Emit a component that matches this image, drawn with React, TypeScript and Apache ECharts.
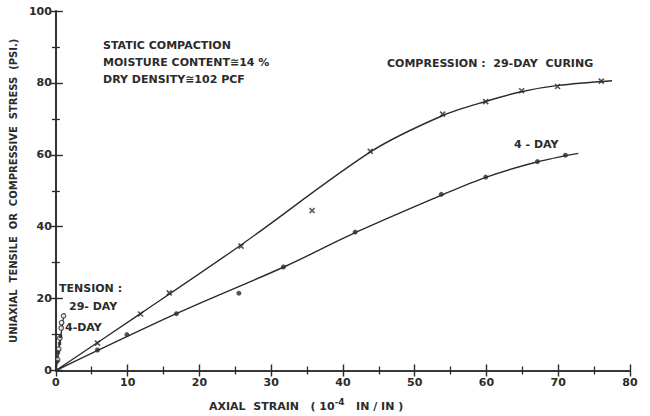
import React, { useEffect, useRef } from "react";
import * as echarts from "echarts";

// Compression, 29-day curing (x markers)
const comp29Points: number[][] = [
  [5.8, 7.6], [11.8, 15.7], [15.8, 21.6], [25.8, 34.6], [35.7, 44.5],
  [43.8, 61.0], [53.9, 71.3], [59.9, 74.8], [64.9, 77.8], [69.9, 79.0], [76.0, 80.5],
];
// Fitted curve, compression 29-day
const comp29Curve: number[][] = [
  [0, 0], [12, 16.1], [26, 35.2], [44, 61],
  [54, 71], [60, 74.9], [65, 77.6], [70, 79.3], [77.5, 80.6],
];
// Compression, 4-day curing (dots)
const comp4Points: number[][] = [
  [5.8, 5.7], [9.9, 10.0], [16.8, 15.8], [25.5, 21.5], [31.7, 28.8],
  [41.7, 38.5], [53.7, 49.0], [59.9, 53.8], [67.1, 58.1], [71.0, 59.9],
];
const comp4Curve: number[][] = [
  [0, 0], [17, 16], [32, 29], [42, 38.6], [54, 49],
  [60, 53.8], [67, 58], [72.8, 60.4],
];
// Tension, 29-day (open circles)
const tens29Points: number[][] = [
  [0.25, 3], [0.4, 6], [0.55, 9], [0.75, 11.8], [0.8, 13.3], [1.07, 15.2],
];
const tens29Curve: number[][] = [[0, 0], [1.15, 16]];
// Tension, 4-day (filled squares)
const tens4Points: number[][] = [[0.2, 2.5], [0.35, 5], [0.5, 7.5], [0.65, 9.5]];
const tens4Curve: number[][] = [[0, 0], [0.75, 10.5]];

const INK = "#2b2b2b";
const FONT = "DejaVu Sans";

export default function App() {
  const ref = useRef<HTMLDivElement>(null);
  useEffect(() => {
    if (!ref.current) return;
    const chart = echarts.init(ref.current, undefined, { renderer: "svg" });
    const axisCommon = {
      type: "value" as const,
      axisLine: { show: true, lineStyle: { color: INK, width: 1.6 } },
      axisTick: { show: true, inside: true, length: 6, lineStyle: { color: INK, width: 1.4 } },
      minorTick: { show: true, splitNumber: 2, length: 4, lineStyle: { color: INK, width: 1.3 } },
      splitLine: { show: false },
      minorSplitLine: { show: false },
    };
    const xMark = "path://M0 0L10 10M10 0L0 10";
    const tf = `bold 11px "${FONT}"`;
    chart.setOption({
      animation: false,
      backgroundColor: "#ffffff",
      grid: { left: 55, right: 20, top: 11, bottom: 45.5 },
      xAxis: [
        {
          ...axisCommon,
          position: "bottom",
          min: 0, max: 80, interval: 10,
          axisLabel: { color: INK, fontFamily: FONT, fontWeight: "bold", fontSize: 11, margin: 6 },
        },
        {
          ...axisCommon,
          position: "top",
          min: 0, max: 80, interval: 10,
          axisLabel: { show: false },
        },
      ],
      yAxis: [
        {
          ...axisCommon,
          position: "left",
          min: 0, max: 100, interval: 20,
          axisLabel: { color: INK, fontFamily: FONT, fontWeight: "bold", fontSize: 11, margin: 4 },
          axisTick: { ...axisCommon.axisTick, length: 7 },
          name: "UNIAXIAL  TENSILE  OR  COMPRESSIVE  STRESS  (PSI.)",
          nameLocation: "middle",
          nameRotate: 90,
          nameGap: 26,
          nameTextStyle: { color: INK, fontFamily: FONT, fontWeight: "bold", fontSize: 10, padding: [0, 0, 0, 0] },
        },
        {
          ...axisCommon,
          position: "right",
          min: 0, max: 100, interval: 20,
          axisLabel: { show: false },
        },
      ],
      graphic: [
        { type: "text", x: 103, y: 40, style: { text: "STATIC COMPACTION", fill: INK, font: tf } },
        { type: "text", x: 103, y: 57, style: { text: "MOISTURE CONTENT≅14 %", fill: INK, font: tf } },
        { type: "text", x: 103, y: 74, style: { text: "DRY DENSITY≅102 PCF", fill: INK, font: tf } },
        { type: "text", x: 387, y: 58, style: { text: "COMPRESSION :  29-DAY  CURING", fill: INK, font: tf } },
        { type: "text", x: 514, y: 139, style: { text: "4 - DAY", fill: INK, font: tf } },
        { type: "text", x: 59, y: 283, style: { text: "TENSION :", fill: INK, font: tf } },
        { type: "text", x: 69, y: 301, style: { text: "29- DAY", fill: INK, font: tf } },
        { type: "text", x: 65, y: 322, style: { text: "4-DAY", fill: INK, font: tf } },
        {
          type: "text", x: 209, y: 397,
          style: {
            text: "{a|AXIAL  STRAIN   ( 10}{s|-4}{a|   IN / IN )}",
            fill: INK,
            rich: {
              a: { fontFamily: FONT, fontWeight: "bold", fontSize: 11, fill: INK, verticalAlign: "bottom" },
              s: { fontFamily: FONT, fontWeight: "bold", fontSize: 9, fill: INK, verticalAlign: "top", padding: [0, 0, 6, 0] },
            },
          },
        },
      ],
      series: [
        { type: "line", data: comp29Curve, smooth: 0.3, showSymbol: false, lineStyle: { color: INK, width: 1.4 }, silent: true },
        { type: "line", data: comp4Curve, smooth: 0.3, showSymbol: false, lineStyle: { color: INK, width: 1.4 }, silent: true },
        { type: "line", data: tens29Curve, showSymbol: false, lineStyle: { color: INK, width: 1.2 }, silent: true },
        { type: "line", data: tens4Curve, showSymbol: false, lineStyle: { color: INK, width: 1.2 }, silent: true },
        {
          type: "scatter", data: comp29Points, symbol: xMark, symbolSize: 5,
          itemStyle: { color: "rgba(0,0,0,0)", borderColor: INK, borderWidth: 1.6 }, z: 5,
        },
        { type: "scatter", data: comp4Points, symbol: "circle", symbolSize: 5, itemStyle: { color: INK }, z: 5 },
        {
          type: "scatter", data: tens29Points, symbol: "circle", symbolSize: 4.5,
          itemStyle: { color: "#ffffff", borderColor: INK, borderWidth: 1.2 }, z: 5,
        },
        { type: "scatter", data: tens4Points, symbol: "rect", symbolSize: 3.5, itemStyle: { color: INK }, z: 5 },
      ],
    });
    return () => chart.dispose();
  }, []);
  return (
    <div
      ref={ref}
      style={{ position: "fixed", left: 0, top: 0, width: 650, height: 416, background: "#fff" }}
    />
  );
}
